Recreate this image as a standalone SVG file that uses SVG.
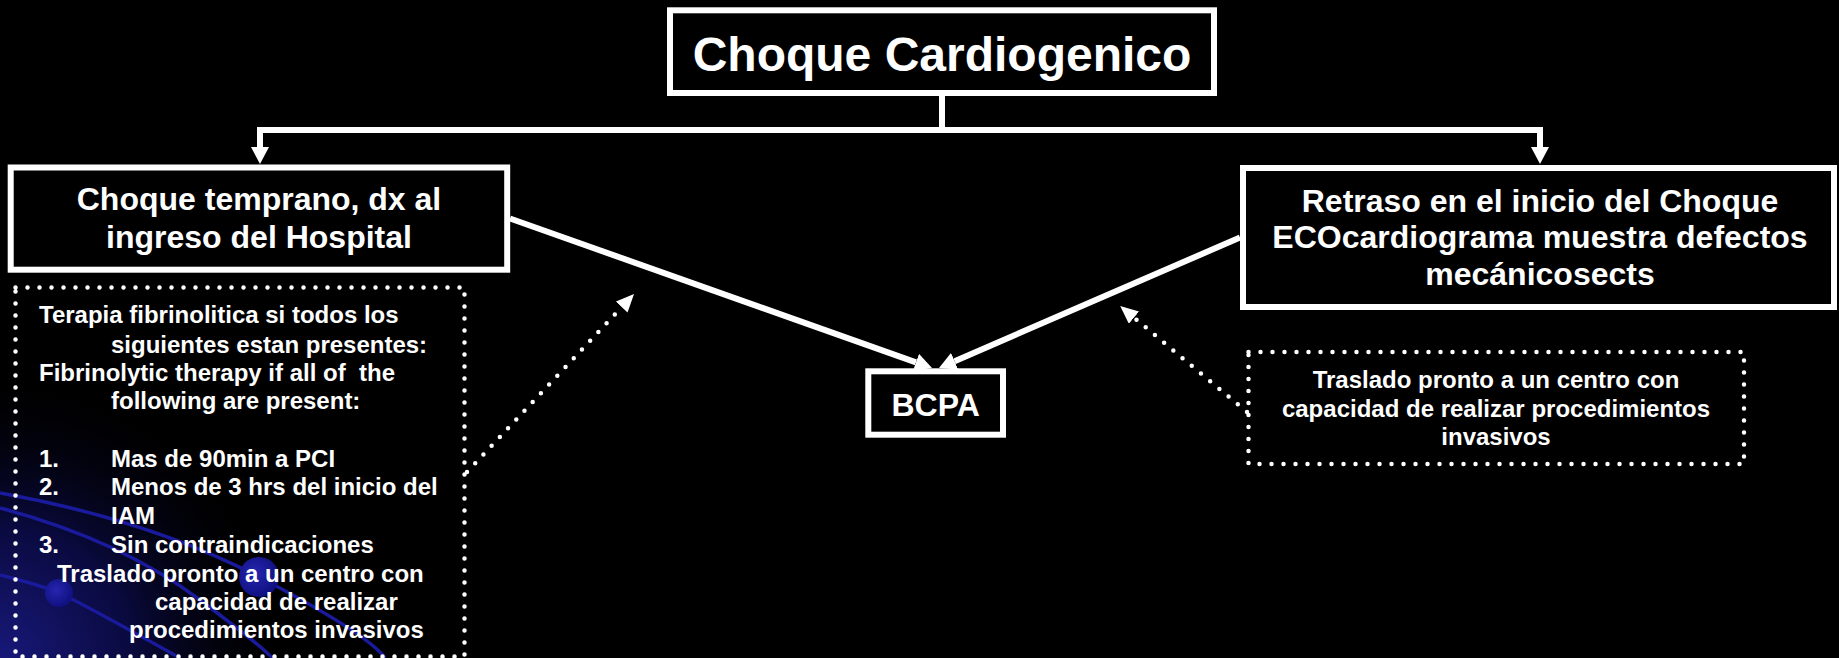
<svg xmlns="http://www.w3.org/2000/svg" width="1839" height="658" viewBox="0 0 1839 658">
  <style>
    .box{fill:#000;stroke:#fff;stroke-width:6}
    .dot{fill:none;stroke:#fff;stroke-width:4.5;stroke-linecap:round;stroke-dasharray:0 12}
    .conn{fill:none;stroke:#fff;stroke-width:6}
    .t{font-family:"Liberation Sans",Arial,sans-serif;font-weight:bold;fill:#fff}
    .c{text-anchor:middle}
    .s24{font-size:24px}
    .s32{font-size:32px}
    .deco{fill:none;stroke:#1a1a9c;stroke-width:3.5}
  </style>
  <defs>
    <marker id="ah" markerUnits="userSpaceOnUse" markerWidth="18" markerHeight="18" refX="0" refY="9" orient="auto" viewBox="0 0 18 18">
      <path d="M0,0 L17,9 L0,18 Z" fill="#fff"/>
    </marker>
    <marker id="ahd" markerUnits="userSpaceOnUse" markerWidth="18" markerHeight="16" refX="0" refY="8" orient="auto" viewBox="0 0 18 16">
      <path d="M0,0 L18,8 L0,16 Z" fill="#fff"/>
    </marker>
    <radialGradient id="glow" cx="0" cy="658" r="290" gradientUnits="userSpaceOnUse">
      <stop offset="0" stop-color="#18187a"/>
      <stop offset="0.45" stop-color="#0a0a40"/>
      <stop offset="1" stop-color="#000" stop-opacity="0"/>
    </radialGradient>
    <radialGradient id="ball" cx="0.4" cy="0.4" r="0.6">
      <stop offset="0" stop-color="#2626b0"/>
      <stop offset="1" stop-color="#101080"/>
    </radialGradient>
  </defs>

  <rect x="0" y="0" width="1839" height="658" fill="#000"/>

  <g id="background-decor">
    <rect x="0" y="368" width="290" height="290" fill="url(#glow)"/>
    <path class="deco" d="M0,493 Q150,520 259,577 T385,658"/>
    <path class="deco" d="M0,508 Q120,540 200,600 T270,658"/>
    <path class="deco" d="M0,575 Q40,585 59,593 T180,658"/>
    <circle cx="59" cy="593" r="14" fill="url(#ball)"/>
    <circle cx="259" cy="577" r="20" fill="url(#ball)"/>
  </g>

  <g id="connectors">
    <path class="conn" d="M942,93 V130"/>
    <path class="conn" d="M942,130 H260 V147" marker-end="url(#ah)"/>
    <path class="conn" d="M942,130 H1540 V147" marker-end="url(#ah)"/>
    <path class="conn" d="M510,218.5 L916,362.3" marker-end="url(#ah)"/>
    <path class="conn" d="M1240,237.5 L954.6,361.2" marker-end="url(#ah)"/>
    <path class="dot" d="M467,472 L621.7,307.1" marker-end="url(#ahd)"/>
    <path class="dot" d="M1247,412 L1134,317.6" marker-end="url(#ahd)"/>
  </g>

  <g id="node-choque-cardiogenico">
    <rect class="box" x="670" y="10.3" width="544" height="82.7"/>
    <text class="t c" x="942" y="71" font-size="48">Choque Cardiogenico</text>
  </g>

  <g id="node-choque-temprano">
    <rect class="box" x="10.7" y="167.5" width="496.5" height="102.2"/>
    <text class="t c s32" x="259" y="210">Choque temprano, dx al</text>
    <text class="t c s32" x="259" y="248">ingreso del Hospital</text>
  </g>

  <g id="node-retraso">
    <rect class="box" x="1243" y="168" width="591" height="139"/>
    <text class="t c s32" x="1540" y="211.5">Retraso en el inicio del Choque</text>
    <text class="t c s32" x="1540" y="248.3">ECOcardiograma muestra defectos</text>
    <text class="t c s32" x="1540" y="285">mecánicosects</text>
  </g>

  <g id="node-bcpa">
    <rect class="box" x="868.3" y="371.3" width="134.7" height="63.4"/>
    <text class="t c s32" x="935.6" y="415.7">BCPA</text>
  </g>

  <g id="node-terapia">
    <rect class="dot" x="15.5" y="287.5" width="449" height="369"/>
    <text class="t s24" x="39" y="323.3">Terapia fibrinolitica si todos los</text>
    <text class="t s24" x="111" y="352.5">siguientes estan presentes:</text>
    <text class="t s24" x="39" y="380.7" xml:space="preserve">Fibrinolytic therapy if all of  the</text>
    <text class="t s24" x="111" y="409.3">following are present:</text>
    <text class="t s24" x="39" y="466.7">1.</text>
    <text class="t s24" x="111" y="466.7">Mas de 90min a PCI</text>
    <text class="t s24" x="39" y="495">2.</text>
    <text class="t s24" x="111" y="495">Menos de 3 hrs del inicio del</text>
    <text class="t s24" x="111" y="524">IAM</text>
    <text class="t s24" x="39" y="552.7">3.</text>
    <text class="t s24" x="111" y="552.7">Sin contraindicaciones</text>
    <text class="t s24" x="57" y="581.7">Traslado pronto a un centro con</text>
    <text class="t s24" x="155" y="610">capacidad de realizar</text>
    <text class="t s24" x="129" y="638.3">procedimientos invasivos</text>
  </g>

  <g id="node-traslado">
    <rect class="dot" x="1248.5" y="352" width="495.5" height="112"/>
    <text class="t c s24" x="1496" y="388.3">Traslado pronto a un centro con</text>
    <text class="t c s24" x="1496" y="416.7">capacidad de realizar procedimientos</text>
    <text class="t c s24" x="1496" y="445">invasivos</text>
  </g>
</svg>
